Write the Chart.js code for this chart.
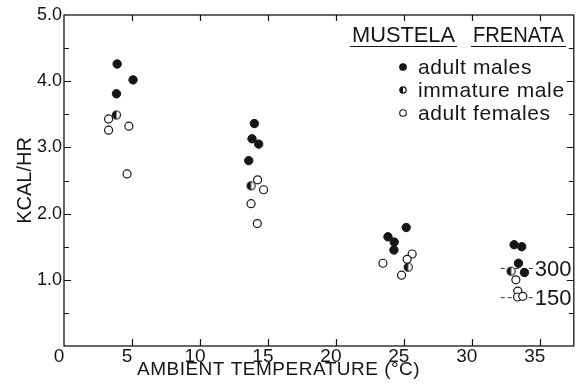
<!DOCTYPE html>
<html>
<head>
<meta charset="utf-8">
<script src="https://cdn.jsdelivr.net/npm/chart.js@4/dist/chart.umd.min.js"></script>
<style>
html,body{margin:0;padding:0;background:#fff}
</style>
</head>
<body>
<canvas id="grafico" width="579" height="392"></canvas>
<script>

// temperatura ambiente (C) x kcal/hr
let machosTemp=[3.91,5.08,3.86,14.0,13.83,14.32,13.59,25.17,23.83,24.29,24.27,33.11,33.67,33.43,33.87]
let machosKcal=[4.26,4.02,3.81,3.36,3.13,3.05,2.80,1.79,1.65,1.57,1.45,1.53,1.50,1.25,1.11]

let imaturosTemp=[3.86,13.76,25.32,32.89]
let imaturosKcal=[3.49,2.42,1.19,1.13]

let femeasTemp=[3.28,3.28,4.77,4.64,14.24,14.68,13.76,14.22,23.46,25.61,25.24,24.83,33.24,33.38,33.36,33.75]
let femeasKcal=[3.43,3.26,3.32,2.60,2.51,2.36,2.15,1.85,1.25,1.39,1.31,1.07,1.00,0.83,0.74,0.75]

let legendaTextos=['adult males','immature male','adult females']

let refNiveis=[1.17,0.73]
let refTextos=['300','150']
let refInicio=32.13
let refFim=34.56

let xTicks=[0,5,10,15,20,25,30,35]

let fonte='"Liberation Sans", Arial, sans-serif'
let tinta='#161616'

function pares(xs,ys){
return xs.map((x,i)=>({x:x,y:ys[i]}))
}

function criarMeioCirculo(r){
let c=document.createElement('canvas')
c.width=c.height=Math.ceil(r*2+3)
let g=c.getContext('2d')
let m=c.width/2
g.beginPath()
g.arc(m,m,r,0,Math.PI*2)
g.fillStyle='#fff'
g.fill()
g.beginPath()
g.arc(m,m,r,Math.PI/2,Math.PI*1.5)
g.closePath()
g.fillStyle=tinta
g.fill()
g.beginPath()
g.arc(m,m,r,0,Math.PI*2)
g.lineWidth=1.2
g.strokeStyle=tinta
g.stroke()
return c
}

let meioGrande=criarMeioCirculo(4)
let meioPequeno=criarMeioCirculo(3.2)

let datasets=[
{
label:legendaTextos[0],
data:pares(machosTemp,machosKcal),
pointStyle:'circle',
pointRadius:4.2,
backgroundColor:tinta,
borderColor:tinta,
borderWidth:1
},
{
label:legendaTextos[1],
data:pares(imaturosTemp,imaturosKcal),
pointStyle:meioGrande,
pointRadius:4.2
},
{
label:legendaTextos[2],
data:pares(femeasTemp,femeasKcal),
pointStyle:'circle',
pointRadius:4,
backgroundColor:'#fff',
borderColor:tinta,
borderWidth:1.2
}
]

refNiveis.forEach((n,i)=>{
datasets.push({
label:refTextos[i],
data:[{x:refInicio,y:n},{x:refFim,y:n}],
showLine:true,
borderDash:[4,3],
borderColor:'#333',
borderWidth:1,
pointRadius:0
})
})

let molduraPlugin={
id:'moldura',
afterDraw(chart){

let c=chart.ctx
let a=chart.chartArea
let sx=chart.scales.x
let sy=chart.scales.y

c.save()
c.strokeStyle=tinta
c.lineWidth=1.3
c.strokeRect(a.left,a.top,a.right-a.left,a.bottom-a.top)

// marcas para dentro
c.lineWidth=1.2
c.beginPath()
sy.ticks.forEach(t=>{
if(t.value<=0||t.value>=5)return
let py=Math.round(sy.getPixelForValue(t.value))+.5
let len=t.value%1===0?7:5
c.moveTo(a.left,py)
c.lineTo(a.left+len,py)
c.moveTo(a.right,py)
c.lineTo(a.right-len,py)
})
xTicks.forEach(v=>{
if(v<=0)return
let px=Math.round(sx.getPixelForValue(v))+.5
c.moveTo(px,a.bottom)
c.lineTo(px,a.bottom-7)
c.moveTo(px,a.top)
c.lineTo(px,a.top+6)
})
c.stroke()

c.fillStyle=tinta
c.textBaseline='alphabetic'

// titulo do eixo x
c.font='19px '+fonte
c.letterSpacing='0.5px'
c.textAlign='left'
c.fillText('AMBIENT TEMPERATURE (°C)',137,375)
c.letterSpacing='0px'

// nome da especie sublinhado
c.font='22px '+fonte
let palavras=[['MUSTELA',352,103],['FRENATA',473,91]]
palavras.forEach(p=>{
c.fillText(p[0],p[1],42,p[2])
c.beginPath()
c.lineWidth=1.2
c.moveTo(p[1]-2,46.5)
c.lineTo(p[1]+p[2]+2,46.5)
c.stroke()
})

// legenda
let ly=[67,90,113]
c.font='21px '+fonte
c.letterSpacing='0.6px'
c.textBaseline='middle'
legendaTextos.forEach((t,i)=>{
let mx=403
if(i===1){
c.drawImage(meioPequeno,mx-meioPequeno.width/2,ly[i]-meioPequeno.height/2)
}else{
c.beginPath()
c.arc(mx,ly[i],3.3,0,Math.PI*2)
c.fillStyle=i===0?tinta:'#fff'
c.fill()
c.lineWidth=1.1
c.strokeStyle=tinta
c.stroke()
}
c.fillStyle=tinta
c.fillText(t,418,ly[i]+1)
})
c.letterSpacing='0px'

// rotulos das linhas de referencia
c.font='22px '+fonte
refNiveis.forEach((n,i)=>{
let px=sx.getPixelForValue(refFim)
let py=sy.getPixelForValue(n)
c.fillText(refTextos[i],px+1,py+1)
})

c.restore()
}
}

let ctx=document.getElementById('grafico')

let grafico=new Chart(ctx,{
type:'scatter',
data:{datasets:datasets},
options:{
responsive:false,
animation:false,
layout:{
padding:{top:15,right:4,left:0,bottom:0}
},
plugins:{
legend:{display:false},
tooltip:{enabled:false}
},
scales:{
x:{
type:'linear',
min:0,
max:37.5,
border:{display:false},
grid:{display:false,drawTicks:false},
ticks:{
stepSize:5,
includeBounds:false,
autoSkip:false,
maxRotation:0,
padding:-1,
labelOffset:-5,
color:tinta,
font:{family:fonte,size:19}
},
afterFit(s){s.height=46}
},
y:{
min:0,
max:5,
border:{display:false},
grid:{display:false,drawTicks:false},
ticks:{
stepSize:.5,
autoSkip:false,
padding:2,
color:tinta,
font:{family:fonte,size:18},
callback:v=>v>0&&v%1===0?v.toFixed(1):''
},
title:{
display:true,
text:'KCAL/HR',
color:tinta,
font:{family:fonte,size:20},
padding:{top:13,bottom:0}
},
afterFit(s){s.width=64}
}
}
},
plugins:[molduraPlugin]
})

</script>
</body>
</html>
